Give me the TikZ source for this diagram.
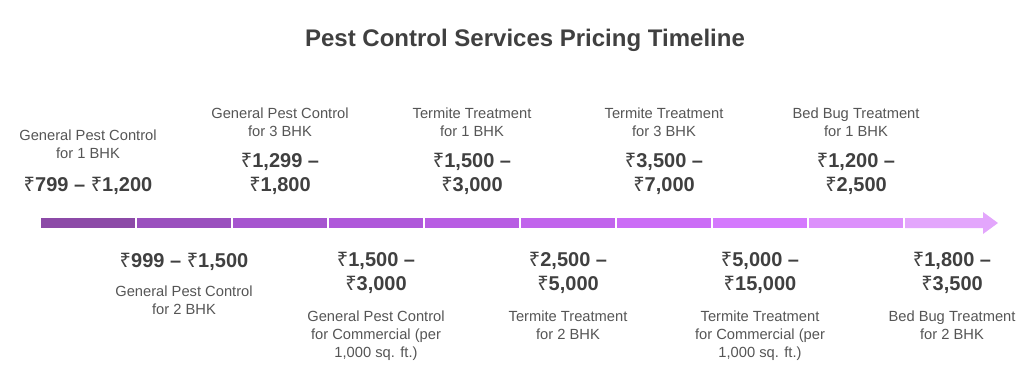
\documentclass[tikz,border=0pt]{standalone}
\usepackage{fontspec}
\setmainfont{Liberation Sans}
\newfontfamily\rupeefont{Noto Sans}
\newcommand{\rs}{{\rupeefont ₹}}
\usetikzlibrary{positioning}
\pgfdeclarelayer{nodelayer}
\pgfdeclarelayer{edgelayer}
\pgfsetlayers{edgelayer,nodelayer,main}
\definecolor{descgray}{HTML}{555555}
\definecolor{pricegray}{HTML}{404040}
\definecolor{seg1}{HTML}{8C4AA7}
\definecolor{seg2}{HTML}{9A50BE}
\definecolor{seg3}{HTML}{A655CF}
\definecolor{seg4}{HTML}{AF58DA}
\definecolor{seg5}{HTML}{B85DE3}
\definecolor{seg6}{HTML}{C164EC}
\definecolor{seg7}{HTML}{CB6CF6}
\definecolor{seg8}{HTML}{D479FD}
\definecolor{seg9}{HTML}{DC90FB}
\definecolor{seg10}{HTML}{E3A6FC}
\tikzset{
    none/.style = {inner sep=0pt},
    heading/.style = {inner sep=0pt, anchor=base, text=pricegray, font=\fontsize{24}{28}\selectfont\bfseries},
    desc/.style = {inner sep=0pt, anchor=base, align=center, text=descgray, font=\fontsize{14.7}{18}\selectfont},
    price/.style = {inner sep=0pt, anchor=base, align=center, text=pricegray, font=\fontsize{20}{23.5}\selectfont\bfseries},
    seg/.style = {inner sep=0pt, minimum width=94pt, minimum height=10pt, fill=#1}
}

\begin{document}
\begin{tikzpicture}[x=1pt, y=-1pt]
    \useasboundingbox (0, 0) rectangle (1029, 391);
    \node [style=heading] (0) at (525, 46.7) {Pest Control Services Pricing Timeline};
    \begin{pgfonlayer}{edgelayer}
        \node [seg=seg1] (1) at (88, 223) {};
        \node [seg=seg2] (2) at (184, 223) {};
        \node [seg=seg3] (3) at (280, 223) {};
        \node [seg=seg4] (4) at (376, 223) {};
        \node [seg=seg5] (5) at (472, 223) {};
        \node [seg=seg6] (6) at (568, 223) {};
        \node [seg=seg7] (7) at (664, 223) {};
        \node [seg=seg8] (8) at (760, 223) {};
        \node [seg=seg9] (9) at (856, 223) {};
        % last piece carries the arrow head
        \coordinate (10) at (998, 223);
        \fill [seg10] (905, 218) -- (983, 218) -- (983, 212) -- (10) -- (983, 234) -- (983, 228) -- (905, 228) -- cycle;
    \end{pgfonlayer}
    \begin{pgfonlayer}{nodelayer}
        % above the line (base = last line)
        \node [style=desc] (11) at (88, 158) {General Pest Control\\for 1 BHK};
        \node [style=price] (12) at (88, 191) {\rs799 – \rs1,200};
        \node [style=desc] (13) at (280, 136) {General Pest Control\\for 3 BHK};
        \node [style=price] (14) at (280, 191) {\rs1,299 –\\\rs1,800};
        \node [style=desc] (15) at (472, 136) {Termite Treatment\\for 1 BHK};
        \node [style=price] (16) at (472, 191) {\rs1,500 –\\\rs3,000};
        \node [style=desc] (17) at (664, 136) {Termite Treatment\\for 3 BHK};
        \node [style=price] (18) at (664, 191) {\rs3,500 –\\\rs7,000};
        \node [style=desc] (19) at (856, 136) {Bed Bug Treatment\\for 1 BHK};
        \node [style=price] (20) at (856, 191) {\rs1,200 –\\\rs2,500};
        % below the line
        \node [style=price] (21) at (184, 267) {\rs999 – \rs1,500};
        \node [style=desc] (22) at (184, 314) {General Pest Control\\for 2 BHK};
        \node [style=price] (23) at (376, 290) {\rs1,500 –\\\rs3,000};
        \node [style=desc] (24) at (376, 357) {General Pest Control\\for Commercial (per\\1,000 sq. ft.)};
        \node [style=price] (25) at (568, 290) {\rs2,500 –\\\rs5,000};
        \node [style=desc] (26) at (568, 339) {Termite Treatment\\for 2 BHK};
        \node [style=price] (27) at (760, 290) {\rs5,000 –\\\rs15,000};
        \node [style=desc] (28) at (760, 357) {Termite Treatment\\for Commercial (per\\1,000 sq. ft.)};
        \node [style=price] (29) at (952, 290) {\rs1,800 –\\\rs3,500};
        \node [style=desc] (30) at (952, 339) {Bed Bug Treatment\\for 2 BHK};
    \end{pgfonlayer}
\end{tikzpicture}
\end{document}
